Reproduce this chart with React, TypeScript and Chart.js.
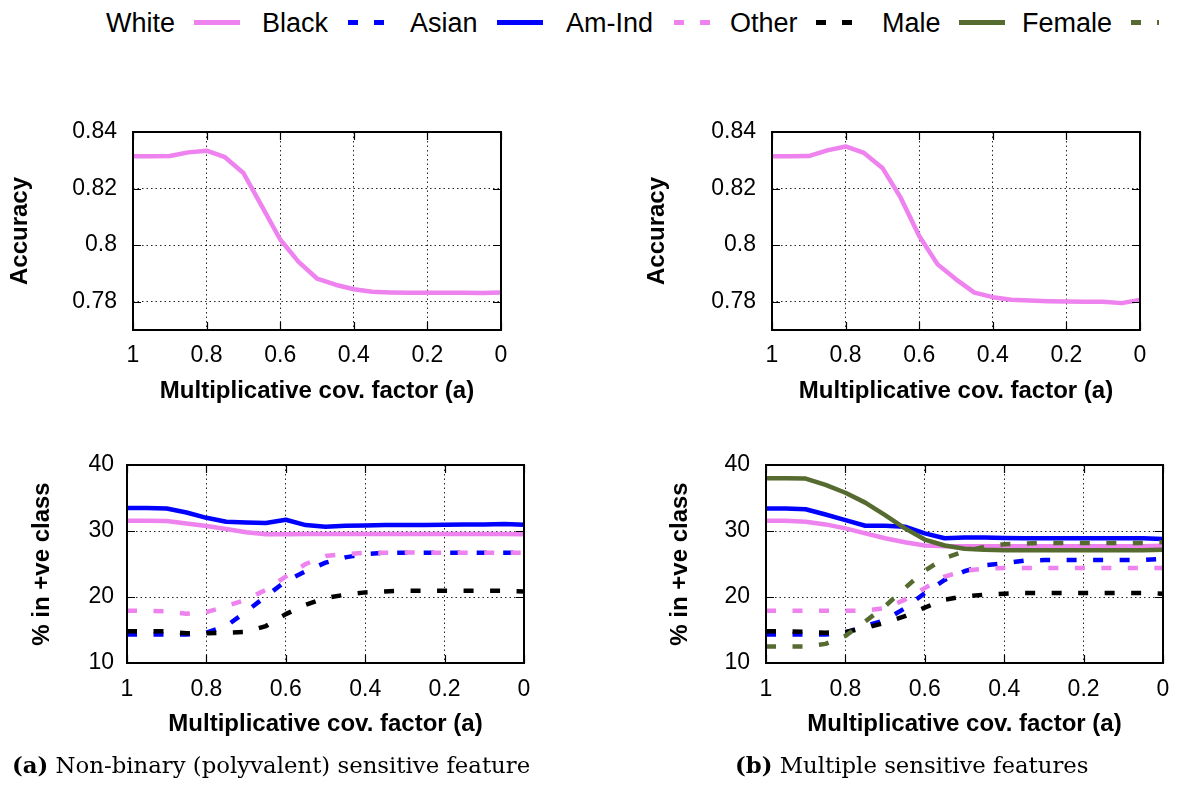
import React, { useEffect, useRef } from 'react';
import { Chart, registerables } from 'chart.js';

Chart.register(...registerables);

// ---------- data ----------
const aValues = [1, 0.95, 0.9, 0.85, 0.8, 0.75, 0.7, 0.65, 0.6, 0.55, 0.5, 0.45, 0.4, 0.35, 0.3, 0.25, 0.2, 0.15, 0.1, 0.05, 0];
const xTickValues = [1, 0.8, 0.6, 0.4, 0.2, 0];
const accTickValues = [0.78, 0.8, 0.82, 0.84];
const pctTickValues = [10, 20, 30, 40];

// (a) accuracy, polyvalent sensitive feature
const accuracyA = [0.8314, 0.8314, 0.8315, 0.8328, 0.8334, 0.8311, 0.8255, 0.8138, 0.802, 0.7941, 0.7882, 0.786, 0.7844, 0.7835, 0.7833, 0.7832, 0.7832, 0.7832, 0.7832, 0.7831, 0.7833];
// (b) accuracy, multiple sensitive features
const accuracyB = [0.8314, 0.8314, 0.8315, 0.8335, 0.8349, 0.8326, 0.8273, 0.8167, 0.8032, 0.7932, 0.7879, 0.7832, 0.7816, 0.7807, 0.7804, 0.7802, 0.7801, 0.78, 0.78, 0.7795, 0.7806];

// (a) % in positive class
const whiteA = [31.56, 31.56, 31.5, 31.15, 30.75, 30.3, 29.8, 29.5, 29.5, 29.55, 29.55, 29.55, 29.55, 29.55, 29.55, 29.55, 29.55, 29.55, 29.55, 29.55, 29.5];
const blackA = [14.3, 14.3, 14.3, 14.3, 14.6, 15.6, 17.8, 20.1, 22.4, 23.9, 25.2, 26.0, 26.5, 26.7, 26.7, 26.7, 26.7, 26.7, 26.7, 26.7, 26.7];
const asianA = [33.5, 33.5, 33.4, 32.8, 32.0, 31.4, 31.3, 31.2, 31.7, 30.9, 30.65, 30.8, 30.85, 30.9, 30.9, 30.9, 30.95, 31.0, 31.0, 31.05, 30.95];
const amIndA = [17.9, 17.9, 17.85, 17.45, 17.7, 18.6, 19.6, 21.1, 23.1, 25.0, 26.2, 26.5, 26.7, 26.7, 26.75, 26.7, 26.7, 26.7, 26.7, 26.7, 26.7];
const otherA = [14.8, 14.8, 14.8, 14.5, 14.5, 14.6, 14.7, 15.6, 17.4, 18.8, 19.85, 20.35, 20.7, 20.85, 20.95, 20.95, 20.95, 20.95, 20.95, 20.95, 20.85];

// (b) % in positive class
const whiteB = [31.56, 31.56, 31.4, 31.0, 30.4, 29.65, 28.9, 28.3, 27.8, 27.7, 27.7, 27.7, 27.7, 27.7, 27.7, 27.7, 27.7, 27.7, 27.7, 27.7, 27.75];
const blackB = [14.3, 14.3, 14.3, 14.3, 14.6, 15.6, 16.5, 18.3, 20.6, 22.6, 23.9, 24.8, 25.1, 25.5, 25.6, 25.6, 25.6, 25.6, 25.6, 25.6, 25.8];
const asianB = [33.4, 33.4, 33.3, 32.5, 31.65, 30.8, 30.8, 30.65, 29.65, 28.9, 29.0, 29.0, 28.95, 28.9, 28.9, 28.9, 28.9, 28.9, 28.9, 28.9, 28.8];
const amIndB = [17.9, 17.9, 17.9, 17.9, 17.9, 17.95, 18.3, 19.6, 21.35, 23.1, 24.0, 24.3, 24.4, 24.4, 24.4, 24.4, 24.4, 24.4, 24.4, 24.4, 24.4];
const otherB = [14.8, 14.8, 14.7, 14.6, 14.7, 15.3, 16.1, 17.1, 18.4, 19.6, 20.1, 20.35, 20.5, 20.6, 20.6, 20.6, 20.6, 20.6, 20.6, 20.6, 20.5];
const maleB = [38.0, 38.0, 37.94, 37.0, 35.8, 34.3, 32.4, 30.4, 28.7, 27.8, 27.3, 27.15, 27.1, 27.1, 27.1, 27.1, 27.1, 27.1, 27.1, 27.1, 27.15];
const femaleB = [12.5, 12.5, 12.5, 12.9, 14.1, 16.3, 18.6, 21.35, 24.0, 25.9, 26.9, 27.6, 28.0, 28.1, 28.2, 28.2, 28.2, 28.2, 28.2, 28.2, 28.3];

const legendLabels = ['White', 'Black', 'Asian', 'Am-Ind', 'Other', 'Male', 'Female'];
const xTitle = 'Multiplicative cov. factor (a)';

// ---------- styles ----------
const SANS = "'Liberation Sans', Arial, Helvetica, sans-serif";
const SERIF = "'DejaVu Serif', 'Liberation Serif', serif";
const VIOLET = '#EE82EE';
const BLUE = '#0000FF';
const BLACK = '#000000';
const OLIVE = '#556B2F';
const DASH = [10, 16.5];

type Series = { values: number[]; color: string; dashed: boolean };

const styleOf: Record<string, { color: string; dashed: boolean }> = {
  White: { color: VIOLET, dashed: false },
  Black: { color: BLUE, dashed: true },
  Asian: { color: BLUE, dashed: false },
  'Am-Ind': { color: VIOLET, dashed: true },
  Other: { color: BLACK, dashed: true },
  Male: { color: OLIVE, dashed: false },
  Female: { color: OLIVE, dashed: true },
};

const fmt = (v: any) => String(parseFloat(Number(v).toFixed(2)));

const framePlugin = {
  id: 'gnuFrame',
  afterDraw(chart: any) {
    const { ctx, chartArea } = chart;
    const { left, right, top, bottom } = chartArea;
    const xs = chart.scales.x;
    const ys = chart.scales.y;
    ctx.save();
    ctx.setLineDash([]);
    ctx.strokeStyle = '#000';
    ctx.lineWidth = 1.2;
    ctx.beginPath();
    const tl = 8;
    for (const t of xs.ticks) {
      const px = Math.round(xs.getPixelForValue(t.value)) + 0.5;
      ctx.moveTo(px, bottom);
      ctx.lineTo(px, bottom - tl);
      ctx.moveTo(px, top);
      ctx.lineTo(px, top + tl);
    }
    for (const t of ys.ticks) {
      const py = Math.round(ys.getPixelForValue(t.value)) + 0.5;
      ctx.moveTo(left, py);
      ctx.lineTo(left + tl, py);
      ctx.moveTo(right, py);
      ctx.lineTo(right - tl, py);
    }
    ctx.stroke();
    ctx.lineWidth = 2;
    ctx.strokeRect(left, top, right - left, bottom - top);
    ctx.restore();
  },
};

type Panel = {
  x0: number; top: number; width: number; height: number;
  yW: number; xH: number; padTop: number; padRight: number;
  yMin: number; yMax: number; yTicks: number[]; yTitle: string;
  yPad: number; xPad: number; series: Series[];
};

function mk(names: string[], vals: number[][]): Series[] {
  return names.map((n, i) => ({ values: vals[i], ...styleOf[n] }));
}

const panels: Panel[] = [
  {
    x0: 6, top: 112, width: 517, height: 294, yW: 127, xH: 76, padTop: 20, padRight: 22,
    yMin: 0.77, yMax: 0.84, yTicks: accTickValues, yTitle: 'Accuracy', yPad: 16, xPad: 12,
    series: [{ values: accuracyA, color: VIOLET, dashed: false }],
  },
  {
    x0: 643, top: 112, width: 519, height: 294, yW: 129, xH: 76, padTop: 20, padRight: 22,
    yMin: 0.77, yMax: 0.84, yTicks: accTickValues, yTitle: 'Accuracy', yPad: 16, xPad: 12,
    series: [{ values: accuracyB, color: VIOLET, dashed: false }],
  },
  {
    x0: 28, top: 445, width: 518, height: 294, yW: 99, xH: 76, padTop: 20, padRight: 22,
    yMin: 10, yMax: 40, yTicks: pctTickValues, yTitle: '% in +ve class', yPad: 13, xPad: 13,
    series: mk(['White', 'Black', 'Asian', 'Am-Ind', 'Other'], [whiteA, blackA, asianA, amIndA, otherA]),
  },
  {
    x0: 666, top: 445, width: 516, height: 294, yW: 100, xH: 76, padTop: 20, padRight: 19,
    yMin: 10, yMax: 40, yTicks: pctTickValues, yTitle: '% in +ve class', yPad: 16, xPad: 13,
    series: mk(['White', 'Black', 'Asian', 'Am-Ind', 'Other', 'Male', 'Female'], [whiteB, blackB, asianB, amIndB, otherB, maleB, femaleB]),
  },
];

function PanelChart({ p }: { p: Panel }) {
  const ref = useRef<HTMLCanvasElement>(null);
  useEffect(() => {
    if (!ref.current) return;
    const n = p.series.length;
    const chart = new Chart(ref.current, {
      type: 'line',
      data: {
        datasets: p.series.map((s, i) => ({
          data: aValues.map((a, k) => ({ x: a, y: s.values[k] })),
          borderColor: s.color,
          backgroundColor: s.color,
          borderWidth: 4.5,
          borderDash: s.dashed ? DASH : [],
          borderCapStyle: 'butt',
          borderJoinStyle: 'round',
          pointRadius: 0,
          fill: false,
          tension: 0,
          order: n - i,
        })),
      },
      options: {
        responsive: false,
        animation: false,
        devicePixelRatio: 1,
        layout: { padding: { top: p.padTop, right: p.padRight, left: 0, bottom: 0 } },
        plugins: { legend: { display: false }, tooltip: { enabled: false } },
        scales: {
          x: {
            type: 'linear',
            reverse: true,
            min: 0,
            max: 1,
            afterBuildTicks: (s: any) => { s.ticks = xTickValues.map((v) => ({ value: v })); },
            afterFit: (s: any) => { s.height = p.xH; s.paddingLeft = 0; s.paddingRight = 0; },
            ticks: { color: '#000', font: { family: SANS, size: 23 }, padding: p.xPad, maxRotation: 0, autoSkip: false, callback: fmt },
            grid: { color: 'rgba(0,0,0,0.85)', lineWidth: 1, drawTicks: false },
            border: { display: false, dash: [1.5, 3] },
            title: { display: true, text: xTitle, color: '#000', font: { family: SANS, size: 24, weight: 'bold' }, padding: { top: 0, bottom: 0 } },
          },
          y: {
            type: 'linear',
            min: p.yMin,
            max: p.yMax,
            afterBuildTicks: (s: any) => { s.ticks = p.yTicks.map((v) => ({ value: v })); },
            afterFit: (s: any) => { s.width = p.yW; s.paddingTop = 0; s.paddingBottom = 0; },
            ticks: { color: '#000', font: { family: SANS, size: 23 }, padding: p.yPad, autoSkip: false, callback: fmt },
            grid: { color: 'rgba(0,0,0,0.85)', lineWidth: 1, drawTicks: false },
            border: { display: false, dash: [1.5, 3] },
            title: { display: true, text: p.yTitle, color: '#000', font: { family: SANS, size: 24, weight: 'bold' }, padding: { top: 0, bottom: 0 } },
          },
        },
      } as any,
      plugins: [framePlugin],
    });
    return () => chart.destroy();
  }, []);
  return (
    <canvas
      ref={ref}
      width={p.width}
      height={p.height}
      style={{ position: 'absolute', left: p.x0, top: p.top, width: p.width, height: p.height }}
    />
  );
}

// legend layout (page px)
const legendTextX = [106, 262, 410, 566, 730, 882, 1022];
const legendSampleX = [194, 348, 497, 674, 816, 959, 1131];

function Legend() {
  return (
    <svg width={1159} height={45} style={{ position: 'absolute', left: 0, top: 0, overflow: 'hidden' }}>
      {legendLabels.map((lab, i) => {
        const st = styleOf[lab];
        return (
          <g key={lab}>
            <text x={legendTextX[i]} y={31.5} fontFamily={SANS} fontSize={27} fill="#000">{lab}</text>
            <line
              x1={legendSampleX[i]} x2={legendSampleX[i] + 46} y1={22.5} y2={22.5}
              stroke={st.color} strokeWidth={5}
              strokeDasharray={st.dashed ? '10 16' : undefined}
            />
          </g>
        );
      })}
    </svg>
  );
}

function Captions() {
  return (
    <svg width={1182} height={785} style={{ position: 'absolute', left: 0, top: 0, pointerEvents: 'none' }}>
      <text x={12} y={773} fontFamily={SERIF} fontSize={22.8} fill="#000">
        <tspan fontWeight="bold">(a)</tspan> Non-binary (polyvalent) sensitive feature
      </text>
      <text x={735} y={773} fontFamily={SERIF} fontSize={22.8} fill="#000">
        <tspan fontWeight="bold">(b)</tspan> Multiple sensitive features
      </text>
    </svg>
  );
}

export default function App() {
  return (
    <div style={{ position: 'absolute', left: 0, top: 0, width: 1182, height: 785, overflow: 'hidden', background: '#fff' }}>
      {panels.map((p, i) => (
        <PanelChart key={i} p={p} />
      ))}
      <Legend />
      <Captions />
    </div>
  );
}
